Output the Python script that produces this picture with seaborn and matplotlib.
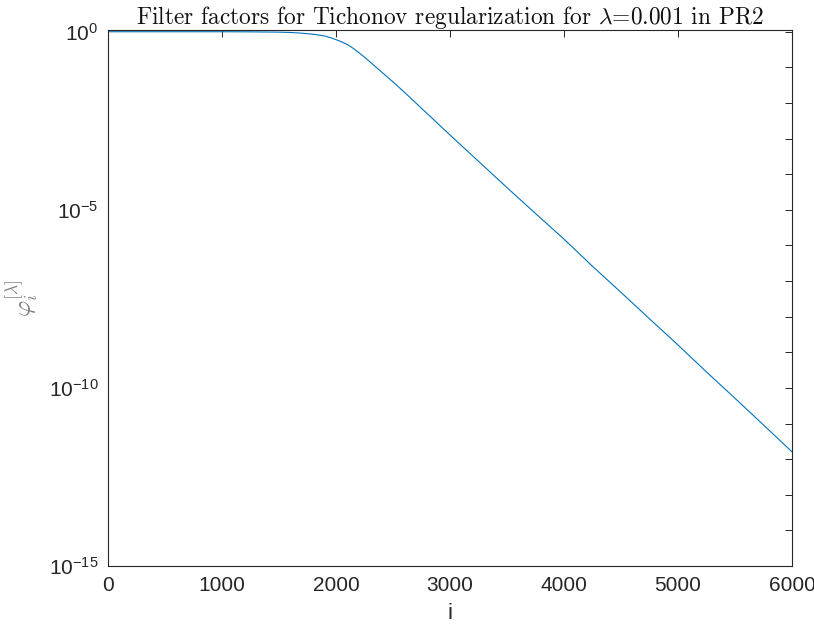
import numpy as np
import pandas as pd
import matplotlib
matplotlib.use("Agg")
import matplotlib.pyplot as plt
import matplotlib.ticker as mticker
import seaborn as sns

# Tikhonov filter factors phi_i for lambda = 0.001 (PR2), sampled along i
idx = [0, 500, 1000, 1250, 1500, 1600, 1700, 1800, 1850, 1900, 1950, 2000,
       2050, 2100, 2150, 2200, 2250, 2300, 2400, 2500, 2600, 2750, 3000,
       3250, 3500, 3750, 4000, 4250, 4500, 4750, 5000, 5250, 5500, 5750, 6000]
phi = [1.0, 1.0, 1.0, 0.993, 0.975, 0.955, 0.912, 0.851, 0.807, 0.759,
       0.684, 0.60, 0.52, 0.437, 0.343, 0.260, 0.193, 0.141, 0.074, 0.039,
       0.020, 7.1e-3, 1.26e-3, 2.3e-4, 4.2e-5, 7.9e-6, 1.5e-6, 2.6e-7,
       4.8e-8, 8.7e-9, 1.6e-9, 2.8e-10, 5.1e-11, 9.1e-12, 1.6e-12]

x_ticks = [0, 1000, 2000, 3000, 4000, 5000, 6000]
y_major = [1e-15, 1e-10, 1e-5, 1e0]

df = pd.DataFrame({"i": idx, "phi": phi})

sns.set_theme(style="white")
plt.rcParams["font.family"] = ["Liberation Sans", "DejaVu Sans"]
plt.rcParams["mathtext.fontset"] = "cm"

fig = plt.figure(figsize=(8.14, 6.35), dpi=100)
ax = fig.add_axes([0.1327, 0.1087, 0.8403, 0.8441])

sns.lineplot(data=df, x="i", y="phi", ax=ax, color="#0072BD", linewidth=0.8)

ax.set_yscale("log")
ax.set_xlim(0, 6000)
ax.set_ylim(1e-15, 10 ** 0.05)

ax.xaxis.set_major_locator(mticker.FixedLocator(x_ticks))
ax.yaxis.set_major_locator(mticker.FixedLocator(y_major))
ax.yaxis.set_minor_locator(mticker.FixedLocator([10.0 ** k for k in range(-15, 1)]))
ax.yaxis.set_minor_formatter(mticker.NullFormatter())
ax.yaxis.set_major_formatter(mticker.FuncFormatter(
    lambda v, p: r"$\mathregular{10^{%d}}$" % int(round(np.log10(v)))))

edge = "#262626"
for s in ax.spines.values():
    s.set_visible(True)
    s.set_color(edge)
    s.set_linewidth(0.8)

ax.tick_params(which="both", direction="in", top=True, right=True,
               color=edge, width=0.7, labelcolor="#262626")
ax.tick_params(which="major", length=5, labelsize=15, pad=7)
ax.tick_params(which="minor", length=5)

ax.set_xlabel("i", fontsize=16, color="#262626", labelpad=6)
ax.set_ylabel(r"$\varphi_i^{[\lambda]}$", fontsize=18, color="#808080", labelpad=6)
ax.set_title(r"Filter factors for Tichonov regularization for $\lambda$=0.001 in PR2",
             fontsize=16.8, family="cmr10", color="#111111", pad=4)

fig.savefig("out.png", dpi=100, facecolor="white")
